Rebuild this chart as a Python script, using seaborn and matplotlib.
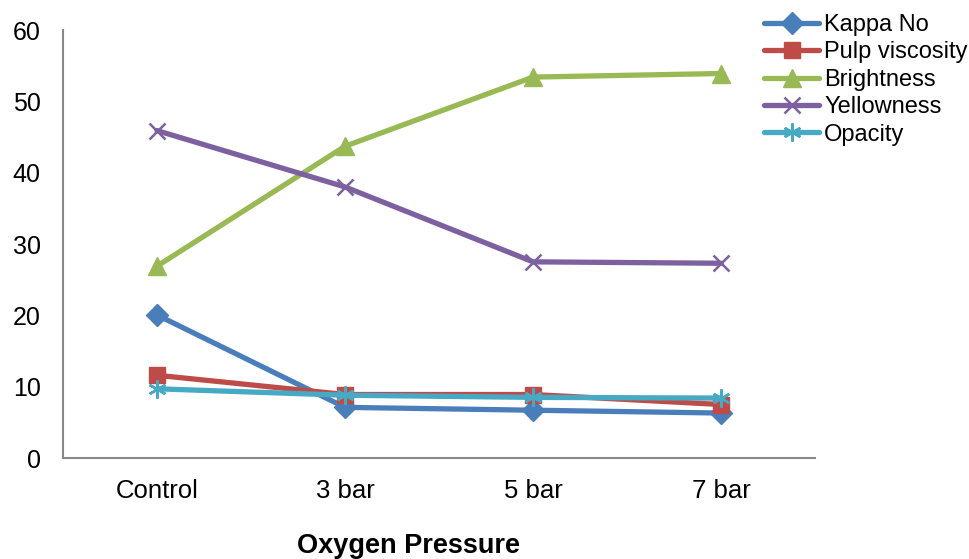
import matplotlib
matplotlib.use("Agg")
import matplotlib.pyplot as plt
import seaborn as sns
import pandas as pd

categories = ["Control", "3 bar", "5 bar", "7 bar"]
kappa_no = [20.05, 7.1, 6.7, 6.3]
pulp_viscosity = [11.6, 8.9, 8.9, 7.5]
brightness = [26.9, 43.7, 53.4, 53.9]
yellowness = [45.9, 38.0, 27.5, 27.3]
opacity = [9.7, 8.8, 8.5, 8.4]
series_names = ["Kappa No", "Pulp viscosity", "Brightness", "Yellowness", "Opacity"]
y_ticks = [0, 10, 20, 30, 40, 50, 60]

series_values = [kappa_no, pulp_viscosity, brightness, yellowness, opacity]
rows = []
for name, vals in zip(series_names, series_values):
    for i, (c, v) in enumerate(zip(categories, vals)):
        rows.append({"series": name, "cat": c, "x": i, "value": v})
df = pd.DataFrame(rows)

sns.set_style("white")
plt.rcParams['font.family'] = ['Liberation Sans', 'DejaVu Sans']
plt.rcParams['text.color'] = 'black'
plt.rcParams['xtick.color'] = 'black'
plt.rcParams['ytick.color'] = 'black'

colors = ["#4A7EBB", "#BE4B48", "#98B954", "#7D60A0", "#46AAC5"]
markers = ["D", "s", "^", "x", (6, 2, 0)]
msizes = [11, 11, 13, 12, 13]

fig = plt.figure(figsize=(9.7, 5.59), dpi=100)
ax = fig.add_axes([63/970, 101/559, (815-63)/970, (458-30)/559])

for name, col, mk, ms in zip(series_names, colors, markers, msizes):
    sub = df[df["series"] == name]
    thin = (mk == "x") or isinstance(mk, tuple)
    sns.lineplot(data=sub, x="x", y="value", ax=ax, color=col, lw=3.8,
                 marker=mk, markersize=ms, markeredgecolor=col,
                 markeredgewidth=1.8 if thin else 1,
                 label=name, legend=False)

ax.set_xlim(-0.5, 3.5)
ax.set_ylim(0, 60)
ax.set_xticks(range(len(categories)))
ax.set_xticklabels(categories, fontsize=18.5, color="black")
ax.set_yticks(y_ticks)
ax.set_yticklabels([str(t) for t in y_ticks], fontsize=18, color="black")
ax.tick_params(axis='x', length=0, pad=15)
ax.tick_params(axis='y', length=5, width=1.2, color="#888888", pad=11, direction='out')
for s in ["top", "right"]:
    ax.spines[s].set_visible(False)
for s in ["left", "bottom"]:
    ax.spines[s].set_color("#888888")
    ax.spines[s].set_linewidth(1.5)
ax.set_xlabel("")
ax.set_ylabel("")

fig.text(409/970, 1 - 546/559, "Oxygen Pressure", ha="center", va="center",
         fontsize=19.5, fontweight="bold", color="black")

handles, labels = ax.get_legend_handles_labels()
leg = fig.legend(handles, labels, loc="upper left", bbox_to_anchor=(764/970, 1 - 14/559),
                 frameon=False, fontsize=17, handlelength=2.35, handletextpad=0.2,
                 labelspacing=0.23, borderaxespad=0, borderpad=0)
for t in leg.get_texts():
    t.set_color("black")

fig.savefig("out.png", dpi=100)
